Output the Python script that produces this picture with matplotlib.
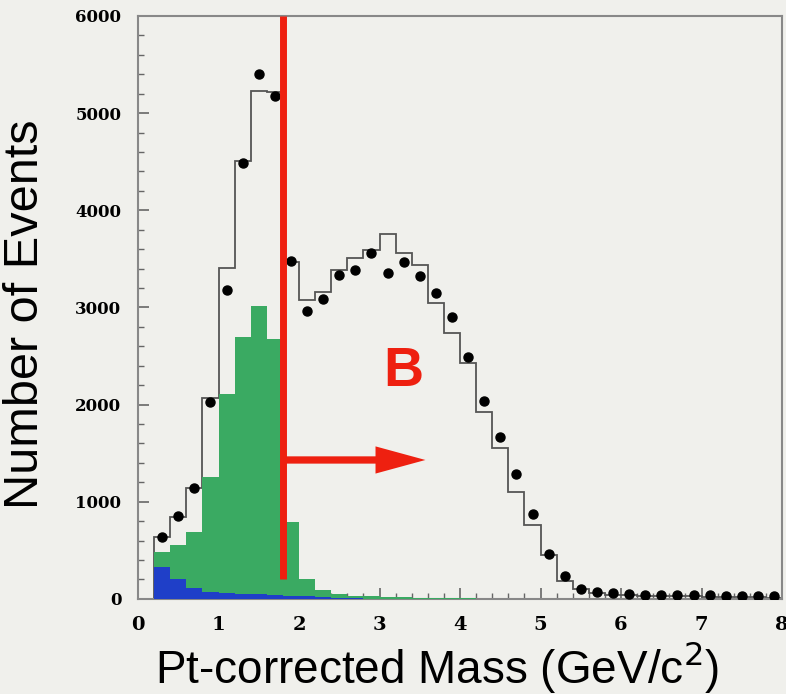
import numpy as np
import matplotlib
matplotlib.use('Agg')
import matplotlib.pyplot as plt
from matplotlib.ticker import MultipleLocator

# bin edges of the histograms (0.2 GeV bins from 0.2 to 8.0)
edges = np.linspace(0.2, 8.0, 40)
centers = (edges[:-1] + edges[1:]) / 2

# total simulation (black outline)
mc_total = [641, 847, 1139, 2065, 3408, 4506, 5230, 5219, 3470, 3075,
            3155, 3385, 3505, 3590, 3752, 3557, 3436, 3042, 2733, 2425,
            1927, 1550, 1104, 756, 447, 189, 103, 60, 45, 38,
            34, 30, 28, 25, 23, 20, 18, 16, 14]

# light-flavour component (blue) and charm component (green, stacked on blue)
light = [333, 200, 110, 70, 60, 55, 50, 45, 35, 25,
         15, 10, 6, 4, 2, 0, 0, 0, 0, 0,
         0, 0, 0, 0, 0, 0, 0, 0, 0, 0,
         0, 0, 0, 0, 0, 0, 0, 0, 0]
charm = [150, 356, 576, 1188, 2049, 2644, 2964, 2627, 760, 178,
         78, 40, 29, 24, 20, 18, 14, 10, 8, 6,
         4, 3, 2, 0, 0, 0, 0, 0, 0, 0,
         0, 0, 0, 0, 0, 0, 0, 0, 0]

# data points
data = [640, 850, 1140, 2030, 3180, 4490, 5400, 5175, 3475, 2960,
        3086, 3330, 3385, 3564, 3350, 3465, 3320, 3150, 2900, 2485,
        2040, 1670, 1290, 876, 464, 238, 105, 67, 57, 50,
        45, 42, 40, 38, 36, 34, 32, 30, 28]

cut_value = 1.8

bg = '#f0f0ec'
red = '#ee2010'
fig = plt.figure(figsize=(7.86, 6.94), dpi=100, facecolor=bg)
ax = fig.add_axes([0.1756, 0.137, 0.8194, 0.84])
ax.set_facecolor(bg)

light = np.array(light)
charm = np.array(charm)

ax.stairs(mc_total, edges, color='#555555', linewidth=1.3, zorder=2)
ax.stairs(light + charm, edges, baseline=light, fill=True,
          color='#3aaa62', zorder=3)
ax.stairs(light, edges, fill=True, color='#1f3fc8', zorder=3)
ax.plot(centers, data, 'o', color='black', markersize=6.5, zorder=4)

# cut line and arrow
ax.plot([cut_value, cut_value], [200, 6000], color=red,
        linewidth=5, solid_capstyle='butt', zorder=5)
ax.arrow(cut_value + 0.03, 1430, 3.57 - cut_value - 0.03, 0,
         width=75, head_width=280, head_length=0.62,
         length_includes_head=True, color=red, linewidth=0, zorder=5)
ax.text(3.3, 2340, 'B', color=red, fontsize=40, fontweight='bold',
        family='Liberation Sans', ha='center', va='center')

ax.set_xlim(0, 8)
ax.set_ylim(0, 6000)
ax.xaxis.set_major_locator(MultipleLocator(1))
ax.xaxis.set_minor_locator(MultipleLocator(0.2))
ax.yaxis.set_major_locator(MultipleLocator(1000))
ax.yaxis.set_minor_locator(MultipleLocator(200))
ax.tick_params(which='both', direction='in', color='#666666')
ax.tick_params(which='major', length=8, width=1.2)
ax.tick_params(which='minor', length=4, width=1)
ax.tick_params(axis='y', pad=12)
ax.tick_params(axis='x', pad=12)

for lab in ax.get_yticklabels():
    lab.set_family('DejaVu Serif')
    lab.set_fontweight('bold')
    lab.set_fontsize(12)
for lab in ax.get_xticklabels():
    lab.set_family('DejaVu Serif')
    lab.set_fontweight('bold')
    lab.set_fontsize(14)

for sp in ax.spines.values():
    sp.set_color('#888888')
    sp.set_linewidth(1.5)

ax.set_xlabel('Pt-corrected Mass (GeV/c$^2$)', fontsize=33,
              family='Liberation Sans')
ax.set_ylabel('Number of Events', fontsize=35,
              family='Liberation Sans')
ax.xaxis.set_label_coords(0.464, -0.068)
ax.yaxis.set_label_coords(-0.14, 0.489)

fig.savefig('out.png', dpi=100, facecolor=bg)
